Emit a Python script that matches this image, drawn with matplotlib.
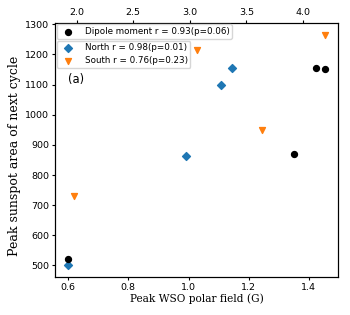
import matplotlib.pyplot as plt

# peak WSO polar field (G) and peak sunspot area of next cycle
north_field = [0.60, 0.99, 1.107, 1.143]
north_area = [500, 863, 1100, 1156]
south_field = [0.619, 1.028, 1.243, 1.455]
south_area = [730, 1216, 950, 1266]
# dipole moment values go on the top axis
dipole = [1.926, 3.92, 4.118, 4.198]
dipole_area = [521, 871, 1156, 1152]

fig = plt.figure(figsize=(3.5, 3.15), dpi=100)
ax = fig.add_axes([0.158, 0.1206, 0.8086, 0.8064])
ax2 = ax.twiny()

d = ax2.scatter(dipole, dipole_area, c="black", marker="o", s=18,
                label="Dipole moment r = 0.93(p=0.06)")
n = ax.scatter(north_field, north_area, c="C0", marker="D", s=16,
               label="North r = 0.98(p=0.01)")
s = ax.scatter(south_field, south_area, c="C1", marker="v", s=18,
               label="South r = 0.76(p=0.23)")

ax.set_xlabel("Peak WSO polar field (G)", family="DejaVu Serif", fontsize=7.6, labelpad=1)
ax.set_ylabel("Peak sunspot area of next cycle", family="DejaVu Serif", fontsize=9.0)
ax.yaxis.set_label_coords(-0.122, 0.476)
ax.tick_params(axis="both", labelsize=6.8, length=2.5, pad=2)
ax2.tick_params(axis="x", labelsize=6.8, length=2.5, pad=2)
ax.set_xticks([0.6, 0.8, 1.0, 1.2, 1.4])
ax2.set_xticks([2.0, 2.5, 3.0, 3.5, 4.0])

ax.text(0.045, 0.765, "(a)", transform=ax.transAxes, fontsize=8.3)

leg1 = ax2.legend(handles=[d], loc="upper left", fontsize=6.3,
                  borderaxespad=0.15, handletextpad=0.9, borderpad=0.3)
leg2 = ax.legend(handles=[n, s], loc="upper left", fontsize=6.3,
                 bbox_to_anchor=(0.0, 0.935), borderaxespad=0.15,
                 handletextpad=0.9, borderpad=0.3, labelspacing=0.45)

fig.savefig("out.png", dpi=100)
